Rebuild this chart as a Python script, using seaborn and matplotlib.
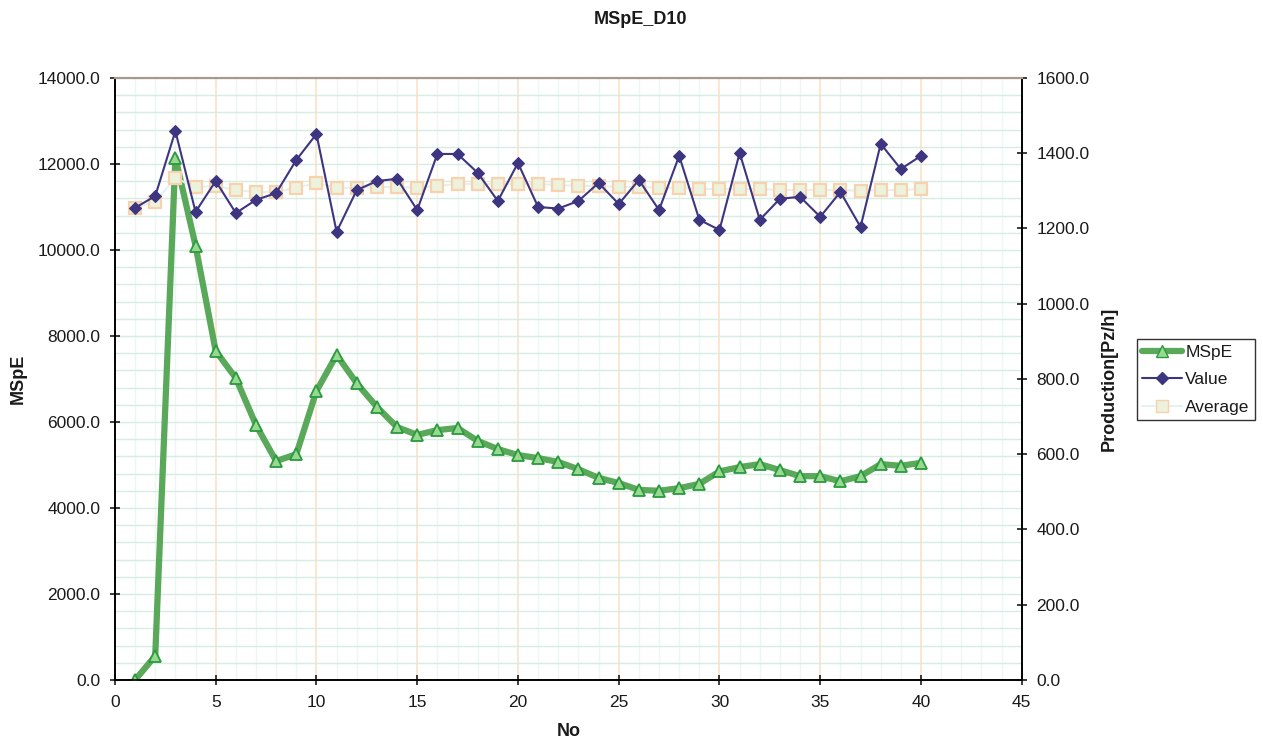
import numpy as np
import pandas as pd
import seaborn as sns
import matplotlib.pyplot as plt
from matplotlib.ticker import MultipleLocator, FormatStrFormatter
from matplotlib.lines import Line2D

sns.set_style("white")
plt.rcParams['font.family'] = ['Liberation Sans', 'DejaVu Sans']
plt.rcParams['text.color'] = '#1a1a1a'
plt.rcParams['axes.labelcolor'] = '#1a1a1a'
plt.rcParams['xtick.color'] = '#1a1a1a'
plt.rcParams['ytick.color'] = '#1a1a1a'

no = list(range(1, 41))
mspe = [0, 560, 12150, 10100, 7650, 7020, 5930, 5090, 5250, 6720,
        7560, 6900, 6350, 5880, 5700, 5810, 5860, 5560, 5370, 5230,
        5160, 5070, 4900, 4700, 4580, 4420, 4400, 4460, 4560, 4850,
        4950, 5020, 4880, 4740, 4740, 4620, 4740, 5020, 4980, 5050]
value = [1255, 1286, 1459, 1244, 1326, 1241, 1276, 1294, 1382, 1451,
         1191, 1302, 1326, 1332, 1249, 1398, 1398, 1348, 1273, 1374,
         1257, 1253, 1273, 1321, 1265, 1329, 1249, 1393, 1223, 1196,
         1401, 1223, 1279, 1284, 1231, 1297, 1204, 1425, 1358, 1393]
average = [1255, 1271, 1334, 1310, 1313, 1302, 1297, 1297, 1308, 1321,
           1308, 1308, 1310, 1310, 1308, 1313, 1318, 1318, 1318, 1318,
           1318, 1316, 1313, 1313, 1310, 1310, 1308, 1308, 1305, 1305,
           1305, 1305, 1302, 1302, 1302, 1302, 1300, 1302, 1302, 1305]

df = pd.DataFrame({'No': no, 'MSpE': mspe, 'Value': value, 'Average': average})

fig = plt.figure(figsize=(12.63, 7.46), dpi=100)
ax = fig.add_axes([0.091, 0.0885, 0.718, 0.807])
ax2 = ax.twinx()

# grid
ax.set_xlim(0, 45)
ax.set_ylim(0, 14000)
ax2.set_ylim(0, 1600)
ax.xaxis.set_major_locator(MultipleLocator(5))
ax.xaxis.set_minor_locator(MultipleLocator(1))
ax.yaxis.set_major_locator(MultipleLocator(2000))
ax.yaxis.set_minor_locator(MultipleLocator(400))
ax2.yaxis.set_major_locator(MultipleLocator(200))
ax.yaxis.set_major_formatter(FormatStrFormatter('%.1f'))
ax2.yaxis.set_major_formatter(FormatStrFormatter('%.1f'))
ax.grid(which='minor', axis='x', color='#ecf7f1', lw=1.0)
ax.grid(which='major', axis='x', color='#fde0c8', lw=1.2)
ax.grid(which='both', axis='y', color='#d6eee2', lw=1.0)
ax.set_axisbelow(True)

sns.lineplot(data=df, x='No', y='MSpE', ax=ax, color='#5aa85a', lw=4.5,
             marker='^', markersize=9, markerfacecolor='#98d890',
             markeredgecolor='#2a9a3e', markeredgewidth=1.3, zorder=3)
sns.lineplot(data=df, x='No', y='Average', ax=ax2, color='#e4f2ee', lw=1.5,
             marker='s', markersize=9, markerfacecolor='#ecf2dc',
             markeredgecolor='#f8d2ae', markeredgewidth=1.6, zorder=3)
sns.lineplot(data=df, x='No', y='Value', ax=ax2, color='#3d3580', lw=1.5,
             marker='D', markersize=6.5, markerfacecolor='#3d3580',
             markeredgecolor='#3d3580', zorder=4)

ax.tick_params(which='major', direction='inout', length=7, width=1.2, labelsize=12.5,
               left=True, bottom=True, pad=7)
ax.tick_params(which='minor', length=0)
ax2.tick_params(which='major', direction='inout', length=7, width=1.2, labelsize=12.5,
                right=True, pad=7)

for a in (ax, ax2):
    for s in a.spines.values():
        s.set_color('black')
        s.set_linewidth(1.2)
    a.spines['top'].set_color('#a89890')
    a.spines['top'].set_linewidth(1.5)

ax.set_xlabel('No', fontsize=13, fontweight='bold', labelpad=10)
ax.set_ylabel('MSpE', fontsize=13, fontweight='bold', labelpad=8)
ax2.set_ylabel('Production[Pz/h]', fontsize=13, fontweight='bold', labelpad=8)
fig.suptitle('MSpE_D10', fontsize=13, fontweight='bold', x=0.507, y=0.985)

handles = [
    Line2D([], [], color='#5aa85a', lw=4.5, marker='^', markersize=9,
           markerfacecolor='#98d890', markeredgecolor='#2a9a3e'),
    Line2D([], [], color='#3d3580', lw=1.5, marker='D', markersize=6.5),
    Line2D([], [], color='#e4f2ee', lw=1.5, marker='s', markersize=9,
           markerfacecolor='#ecf2dc', markeredgecolor='#f8d2ae'),
]
leg = fig.legend(handles, ['MSpE', 'Value', 'Average'], loc='upper left',
                 bbox_to_anchor=(0.9, 0.545), fontsize=12.5, frameon=True,
                 fancybox=False, edgecolor='black', borderpad=0.3,
                 borderaxespad=0, handlelength=2.3, handletextpad=0.2,
                 labelspacing=0.72)
leg.get_frame().set_linewidth(1.0)

fig.savefig('out.png', dpi=100)
